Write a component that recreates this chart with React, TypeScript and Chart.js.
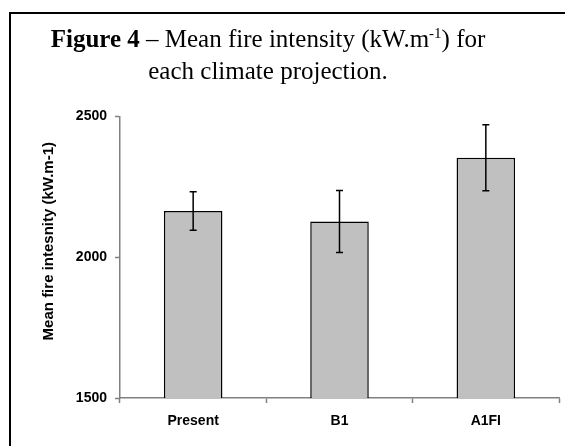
import React, { useEffect, useRef } from "react";
import { Chart, registerables } from "chart.js";

Chart.register(...registerables);

const categories = ["Present", "B1", "A1FI"];
const meanIntensity = [2164, 2127, 2353];
const errorValues = [68, 110, 117];
const yTicks = [1500, 2000, 2500];
const yTitle = "Mean fire intesnity (kW.m-1)";

const FONT = "'Liberation Sans', Arial, sans-serif";

const errorBarPlugin = {
  id: "errorBars",
  afterDatasetsDraw(chart: any) {
    const meta = chart.getDatasetMeta(0);
    const y = chart.scales.y;
    const ctx = chart.ctx;
    ctx.save();
    ctx.strokeStyle = "#000";
    ctx.lineWidth = 1.5;
    meta.data.forEach((bar: any, i: number) => {
      const x = bar.x;
      const yTop = y.getPixelForValue(meanIntensity[i] + errorValues[i]);
      const yBot = y.getPixelForValue(meanIntensity[i] - errorValues[i]);
      ctx.beginPath();
      ctx.moveTo(x, yTop);
      ctx.lineTo(x, yBot);
      ctx.moveTo(x - 3.5, yTop);
      ctx.lineTo(x + 3.5, yTop);
      ctx.moveTo(x - 3.5, yBot);
      ctx.lineTo(x + 3.5, yBot);
      ctx.stroke();
    });
    ctx.restore();
  },
};

const yTitlePlugin = {
  id: "yTitle",
  afterDraw(chart: any) {
    const ctx = chart.ctx;
    const area = chart.chartArea;
    ctx.save();
    ctx.translate(49, (area.top + area.bottom) / 2 - 16);
    ctx.rotate(-Math.PI / 2);
    ctx.font = `bold 15px ${FONT}`;
    ctx.fillStyle = "#000";
    ctx.textAlign = "center";
    ctx.textBaseline = "middle";
    ctx.fillText(yTitle, 0, 0);
    ctx.restore();
  },
};

export default function App() {
  const ref = useRef<HTMLCanvasElement | null>(null);

  useEffect(() => {
    if (!ref.current) return;
    const chart = new Chart(ref.current, {
      type: "bar",
      data: {
        labels: categories,
        datasets: [
          {
            data: meanIntensity,
            backgroundColor: "#c0c0c0",
            borderColor: "#000",
            borderWidth: 1.5,
            barPercentage: 0.4,
            categoryPercentage: 1,
          },
        ],
      },
      options: {
        animation: false,
        responsive: false,
        devicePixelRatio: 1,
        layout: { padding: { top: 11, right: 6, left: 0, bottom: 0 } },
        plugins: { legend: { display: false }, tooltip: { enabled: false } },
        scales: {
          x: {
            offset: true,
            grid: {
              offset: true,
              drawOnChartArea: false,
              tickLength: 5,
              tickColor: "#808080",
              tickWidth: 1.5,
            },
            border: { color: "#808080", width: 1.5 },
            ticks: {
              color: "#000",
              padding: 10,
              font: { family: FONT, size: 14, weight: "bold" },
            },
            afterFit: (s: any) => {
              s.height = 48;
            },
          },
          y: {
            min: 1500,
            max: 2500,
            afterBuildTicks: (s: any) => {
              s.ticks = yTicks.map((v) => ({ value: v }));
            },
            grid: {
              drawOnChartArea: false,
              tickLength: 5,
              tickColor: "#808080",
              tickWidth: 1.5,
            },
            border: { color: "#808080", width: 1.5 },
            ticks: {
              color: "#000",
              padding: 8,
              font: { family: FONT, size: 14, weight: "bold" },
              callback: (v: any) => String(v),
            },
            afterFit: (s: any) => {
              s.width = 120;
            },
          },
        },
      },
      plugins: [errorBarPlugin, yTitlePlugin],
    });
    return () => chart.destroy();
  }, []);

  return (
    <div>
      <div
        style={{
          position: "fixed",
          left: 9,
          top: 12,
          width: 700,
          height: 600,
          borderTop: "2px solid #000",
          borderLeft: "2px solid #000",
          boxSizing: "border-box",
        }}
      />
      <div
        style={{
          position: "fixed",
          left: 0,
          top: 23,
          width: 536,
          textAlign: "center",
          fontFamily: "'Liberation Serif', 'Times New Roman', serif",
          fontSize: 25,
          lineHeight: "32px",
          color: "#000",
        }}
      >
        <div>
          <b>Figure 4</b> – Mean fire intensity (kW.m
          <sup style={{ fontSize: 15, lineHeight: 0, verticalAlign: "9px" }}>-1</sup>) for
        </div>
        <div>each climate projection.</div>
      </div>
      <canvas
        ref={ref}
        width={565}
        height={346}
        style={{ position: "fixed", left: 0, top: 100, width: 565, height: 346 }}
      />
    </div>
  );
}
